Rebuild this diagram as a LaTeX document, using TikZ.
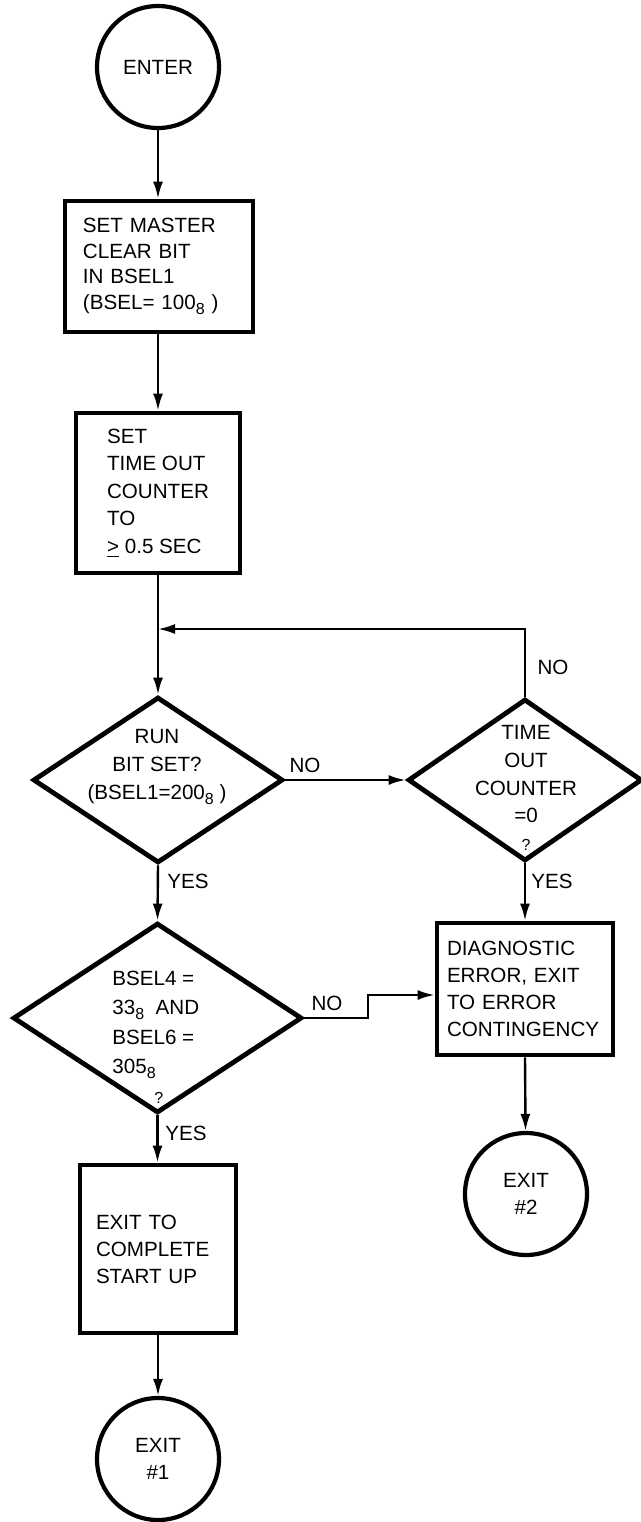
\documentclass[tikz,border=0pt]{standalone}
\usepackage{fontspec}
\setmainfont{Liberation Sans}
\usetikzlibrary{shapes.geometric,arrows.meta}
\newcommand\lowsub[1]{\raisebox{-0.45ex}{\fontsize{8}{8}\selectfont #1}}
\begin{document}
\begin{tikzpicture}[x=0.5pt,y=-0.5pt,
  every node/.style={font=\fontsize{10.3}{13.5}\selectfont},
  term/.style={circle, draw, line width=2.1pt, minimum size=61pt, inner sep=0pt, align=center},
  box/.style={rectangle, draw, line width=2.4pt, align=left, inner xsep=2pt, inner ysep=0pt},
  dec/.style={diamond, draw, line width=2.4pt, inner sep=0pt},
  dtext/.style={align=center, inner sep=0pt},
  lbl/.style={inner sep=0pt},
  conn/.style={line width=1.2pt, -{Latex[length=8.5pt,width=5pt]}},
  plain/.style={line width=1.2pt}
]
\useasboundingbox (0,0) rectangle (641,1522);

% terminals
\node[term] (enter) at (158,67) {ENTER};
\node[term] (exit2) at (526,1194) {EXIT\\\#2};
\node[term] (exit1) at (158,1459) {EXIT\\\#1};

% process boxes
\node[box, minimum width=94pt, minimum height=65.5pt, text width=76pt, font=\fontsize{10.3}{12.8}\selectfont] (b1) at (159,266.5)
  {SET MASTER\\CLEAR BIT\\IN BSEL1\\(BSEL= 100\lowsub{8} )};
\node[box, minimum width=82pt, minimum height=80pt, font=\fontsize{10.3}{13.8}\selectfont] (b2) at (158,493)
  {SET\\TIME OUT\\COUNTER\\TO\\\underline{>} 0.5 SEC};
\node[box, minimum width=88pt, minimum height=66pt, text width=78pt] (b3) at (525,989)
  {DIAGNOSTIC\\ERROR, EXIT\\TO ERROR\\CONTINGENCY};
\node[box, minimum width=78pt, minimum height=84pt, text width=62pt] (b4) at (158,1249)
  {EXIT TO\\COMPLETE\\START UP};

% decisions
\node[dec, minimum width=125pt, minimum height=83pt] (d1) at (158,780) {};
\node[dtext, font=\fontsize{10.3}{14.2}\selectfont] (d1t) at (157,767) {RUN\\BIT SET?\\(BSEL1=200\lowsub{8} )};
\node[dec, minimum width=117pt, minimum height=81pt] (d2) at (525,780) {};
\node[dtext, font=\fontsize{10.3}{13.8}\selectfont] (d2t) at (526,788) {TIME\\OUT\\COUNTER\\=0\\{\footnotesize ?}};
\node[dec, minimum width=144.5pt, minimum height=95pt] (d3) at (157.5,1018) {};
\node[align=left, anchor=west, inner sep=0pt, font=\fontsize{10.3}{14.8}\selectfont] (d3t) at (112,1037)
  {BSEL4 =\\33\lowsub{8}\ \ AND\\BSEL6 =\\305\lowsub{8}\\\hspace*{21pt}{\footnotesize ?}};

% labels
\node[lbl] (no1) at (305,765) {NO};
\node[lbl] (no2) at (553,667) {NO};
\node[lbl] (no3) at (327,1003) {NO};
\node[lbl] (yes1) at (188,881) {YES};
\node[lbl] (yes2) at (552,881) {YES};
\node[lbl] (yes3) at (186,1133) {YES};

% connectors
\coordinate (loopend) at (158,629);
\coordinate (elb) at (368,1018);
\draw[conn] (enter) -- (enter |- b1.north);
\draw[conn] (enter |- b1.south) -- (enter |- b2.north);
\draw[plain] (enter |- b2.south) -- (loopend);
\draw[conn] (loopend) -- (d1.north);
\draw[conn] (d2.north) |- (loopend);
\draw[conn] (d1.east) -- (d2.west);
\draw[conn] (d2.south) -- (b3.north);
\draw[conn] (d1.south) -- (d3.north);
\draw[conn] (d3.east) -- (elb) |- ([yshift=-3pt]b3.west);
\draw[conn] (b3.south) -- (exit2);
\draw[conn] (d3.south) -- (d3.south |- b4.north);
\draw[conn] (exit1 |- b4.south) -- (exit1);
\end{tikzpicture}
\end{document}
